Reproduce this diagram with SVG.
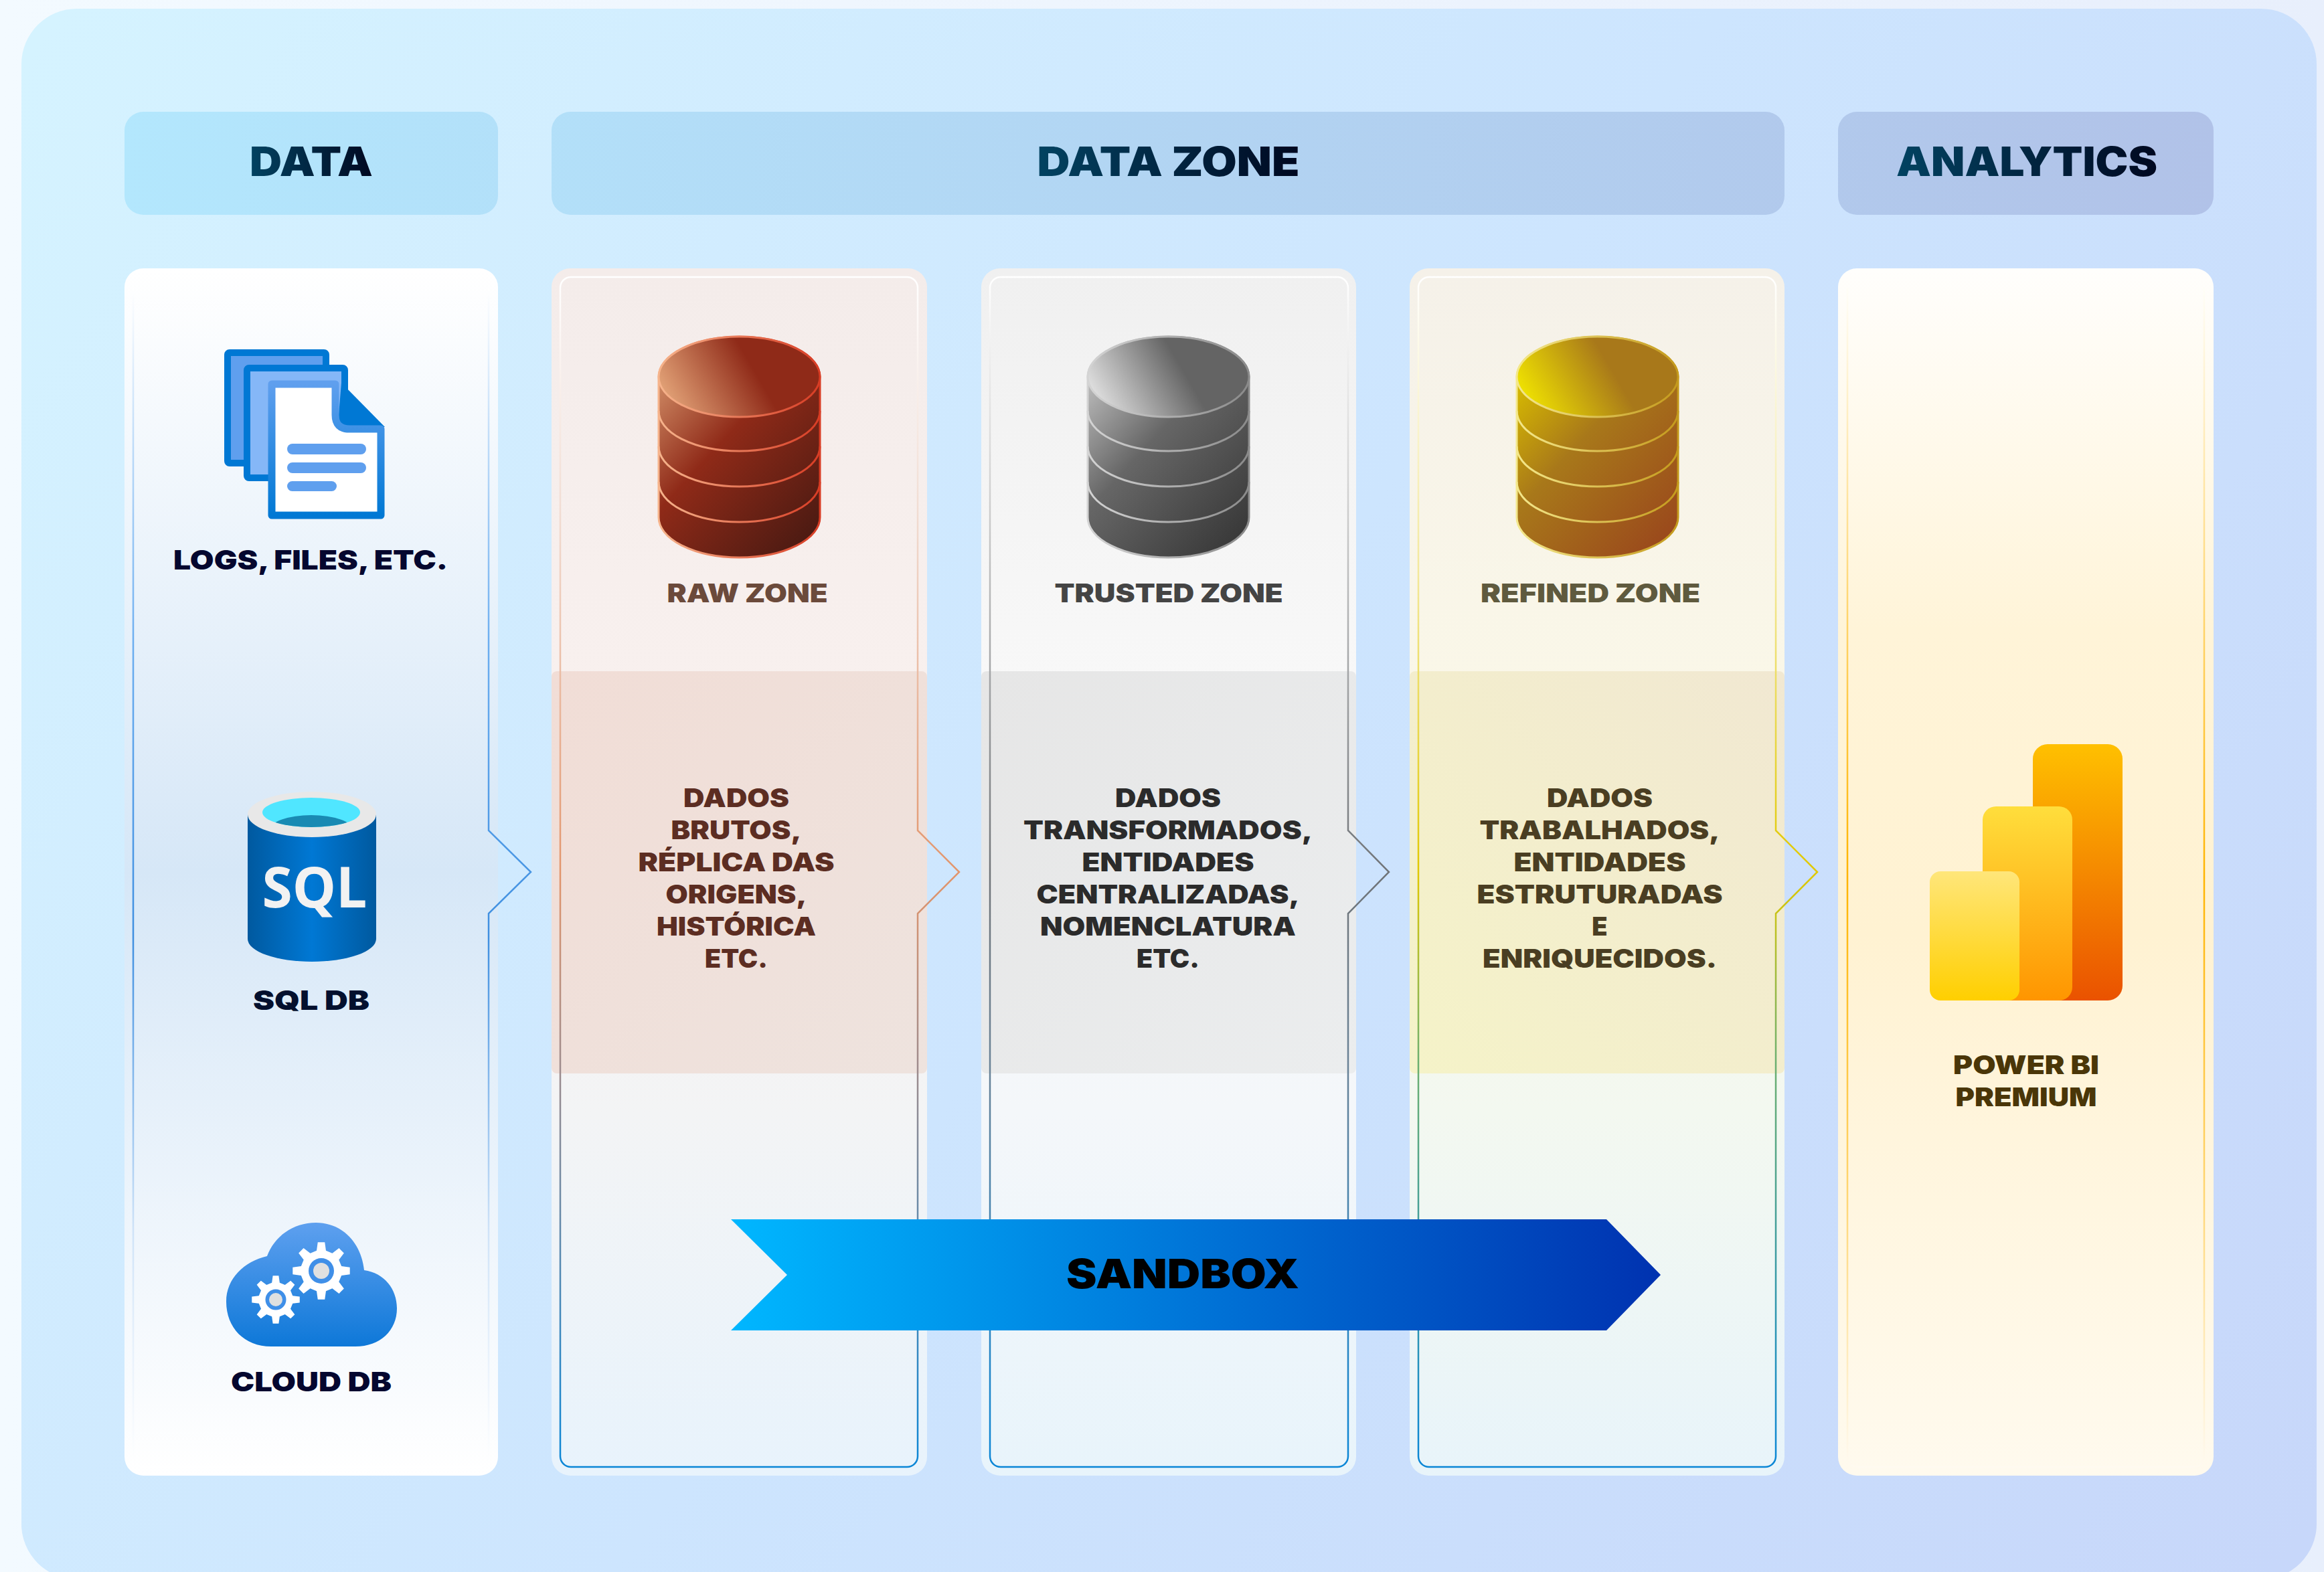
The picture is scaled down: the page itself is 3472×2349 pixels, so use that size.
<svg xmlns="http://www.w3.org/2000/svg" width="3472" height="2349" viewBox="0 0 3472 2349">
<style>
text{font-family:"Inter","Liberation Sans",sans-serif;font-weight:900;text-anchor:middle}
.h{font-size:60px;fill:url(#hText)}
.l{font-size:40px;fill:#05072f}
.z{font-size:38px}
.b{font-size:38px}
.frame{fill:none;stroke-width:3}
.thin{stroke-width:2.5;stroke-linejoin:miter}
</style>
<defs>
<linearGradient id="page" x1="0" x2="1" y1="0" y2="0"><stop offset="0" stop-color="#f3faff"/><stop offset="1" stop-color="#e8effc"/></linearGradient>
<linearGradient id="bg" gradientUnits="userSpaceOnUse" x1="100" y1="0" x2="3400" y2="2349"><stop offset="0" stop-color="#d5f3ff"/><stop offset=".5" stop-color="#cde5fe"/><stop offset="1" stop-color="#c7d7fa"/></linearGradient>
<linearGradient id="head" gradientUnits="userSpaceOnUse" x1="186" y1="0" x2="3307" y2="0"><stop offset="0" stop-color="#b3e7fd"/><stop offset="1" stop-color="#b1c2e8"/></linearGradient>
<linearGradient id="hText" x1="0" x2="1" y1="0" y2="0"><stop offset="0" stop-color="#024362"/><stop offset="1" stop-color="#000820"/></linearGradient>
<linearGradient id="pData" x1="0" x2="0" y1="0" y2="1"><stop offset="0" stop-color="#fff"/><stop offset=".5" stop-color="#d6e7f7"/><stop offset="1" stop-color="#fff"/></linearGradient>
<linearGradient id="pAna" x1="0" x2="0" y1="0" y2="1"><stop offset="0" stop-color="#fffefc"/><stop offset=".3" stop-color="#fff4d8"/><stop offset=".55" stop-color="#fff2d2"/><stop offset="1" stop-color="#fffaee"/></linearGradient>
<linearGradient id="pRaw" x1="0" x2="0" y1="0" y2="1"><stop offset="0" stop-color="#f4ecea"/><stop offset=".34" stop-color="#f8f0ee"/><stop offset=".7" stop-color="#f3f4f5"/><stop offset="1" stop-color="#e8f3fc"/></linearGradient>
<linearGradient id="pTru" x1="0" x2="0" y1="0" y2="1"><stop offset="0" stop-color="#f0f0f0"/><stop offset=".34" stop-color="#f8f8f8"/><stop offset=".7" stop-color="#f4f7fa"/><stop offset="1" stop-color="#e8f4fb"/></linearGradient>
<linearGradient id="pRef" x1="0" x2="0" y1="0" y2="1"><stop offset="0" stop-color="#f5f1e9"/><stop offset=".34" stop-color="#faf7e8"/><stop offset=".7" stop-color="#f3f8f0"/><stop offset="1" stop-color="#e8f4fa"/></linearGradient>
<linearGradient id="bRaw" x1="0" x2="1" y1="0" y2="1"><stop offset="0" stop-color="#f1ddd6"/><stop offset="1" stop-color="#eee3de"/></linearGradient>
<linearGradient id="bTru" x1="0" x2="1" y1="0" y2="1"><stop offset="0" stop-color="#e6e6e6"/><stop offset="1" stop-color="#ebedee"/></linearGradient>
<linearGradient id="bRef" x1="0" x2="1" y1="1" y2="0"><stop offset="0" stop-color="#f5f3c8"/><stop offset="1" stop-color="#f1e8d2"/></linearGradient>
<linearGradient id="fData" gradientUnits="userSpaceOnUse" x1="0" x2="0" y1="430" y2="2192"><stop offset="0" stop-color="#fff"/><stop offset=".3" stop-color="#6caef0"/><stop offset=".55" stop-color="#3f8fe0"/><stop offset=".8" stop-color="#cfe3f8"/><stop offset="1" stop-color="#fff"/></linearGradient>
<linearGradient id="fAna" gradientUnits="userSpaceOnUse" x1="0" x2="0" y1="430" y2="2192"><stop offset="0" stop-color="#fffef8"/><stop offset=".5" stop-color="#ffb400"/><stop offset=".75" stop-color="#ffd36a"/><stop offset="1" stop-color="#fffaf0"/></linearGradient>
<linearGradient id="fRaw" gradientUnits="userSpaceOnUse" x1="0" x2="0" y1="414" y2="2192"><stop offset="0" stop-color="#fff"/><stop offset=".2" stop-color="#f1dcd2"/><stop offset=".5" stop-color="#e2956c"/><stop offset=".66" stop-color="#a08c8c"/><stop offset="1" stop-color="#0a86d6"/></linearGradient>
<linearGradient id="fTru" gradientUnits="userSpaceOnUse" x1="0" x2="0" y1="414" y2="2192"><stop offset="0" stop-color="#fff"/><stop offset=".2" stop-color="#ccc"/><stop offset=".5" stop-color="#707478"/><stop offset=".66" stop-color="#6a8296"/><stop offset="1" stop-color="#0a86d6"/></linearGradient>
<linearGradient id="fRef" gradientUnits="userSpaceOnUse" x1="0" x2="0" y1="414" y2="2192"><stop offset="0" stop-color="#fff"/><stop offset=".25" stop-color="#f3e89a"/><stop offset=".5" stop-color="#e0c800"/><stop offset=".66" stop-color="#6cb070"/><stop offset="1" stop-color="#0a86d6"/></linearGradient>
<linearGradient id="sand" gradientUnits="userSpaceOnUse" x1="1092" x2="2480" y1="0" y2="0"><stop offset="0" stop-color="#00b7ff"/><stop offset="1" stop-color="#0032b0"/></linearGradient>
<linearGradient id="sheet" x1="0" x2="0" y1="0" y2="1"><stop offset="0" stop-color="#5f9fee"/><stop offset="1" stop-color="#0078d4"/></linearGradient>
<linearGradient id="sql" x1="0" x2="1" y1="0" y2="0"><stop offset="0" stop-color="#00599f"/><stop offset=".5" stop-color="#0078d4"/><stop offset="1" stop-color="#00599f"/></linearGradient>
<linearGradient id="cloud" x1="0" x2="0" y1="0" y2="1"><stop offset="0" stop-color="#5ea0ef"/><stop offset="1" stop-color="#0e78d8"/></linearGradient>
<linearGradient id="pb1" x1="0" x2="0" y1="0" y2="1"><stop offset="0" stop-color="#ffc000"/><stop offset="1" stop-color="#ea5200"/></linearGradient>
<linearGradient id="pb2" x1="0" x2="0" y1="0" y2="1"><stop offset="0" stop-color="#ffde3c"/><stop offset="1" stop-color="#ff9500"/></linearGradient>
<linearGradient id="pb3" x1="0" x2="0" y1="0" y2="1"><stop offset="0" stop-color="#ffe67a"/><stop offset="1" stop-color="#ffcf00"/></linearGradient>
<linearGradient id="rawBody" gradientUnits="userSpaceOnUse" x1="0" y1="5" x2="243" y2="228"><stop offset="0" stop-color="#cf8a64"/><stop offset=".4" stop-color="#8f2a18"/><stop offset="1" stop-color="#4b1a12"/></linearGradient>
<linearGradient id="rawTop" gradientUnits="userSpaceOnUse" x1="5" y1="30" x2="125" y2="-40"><stop offset="0" stop-color="#e5a67a"/><stop offset="1" stop-color="#8f2a18"/></linearGradient>
<linearGradient id="rawLine" x1="0" x2="1" y1="0" y2="0"><stop offset="0" stop-color="#f6b48c"/><stop offset="1" stop-color="#d83c24"/></linearGradient>
<linearGradient id="truBody" gradientUnits="userSpaceOnUse" x1="0" y1="5" x2="243" y2="228"><stop offset="0" stop-color="#bcbcbc"/><stop offset=".4" stop-color="#666"/><stop offset="1" stop-color="#383838"/></linearGradient>
<linearGradient id="truTop" gradientUnits="userSpaceOnUse" x1="5" y1="30" x2="125" y2="-40"><stop offset="0" stop-color="#e4e4e4"/><stop offset="1" stop-color="#646464"/></linearGradient>
<linearGradient id="truLine" x1="0" x2="1" y1="0" y2="0"><stop offset="0" stop-color="#d4d4d4"/><stop offset="1" stop-color="#8a8a8a"/></linearGradient>
<linearGradient id="refBody" gradientUnits="userSpaceOnUse" x1="0" y1="5" x2="243" y2="228"><stop offset="0" stop-color="#d8bc00"/><stop offset=".4" stop-color="#a8781a"/><stop offset="1" stop-color="#9a481c"/></linearGradient>
<linearGradient id="refTop" gradientUnits="userSpaceOnUse" x1="5" y1="30" x2="125" y2="-40"><stop offset="0" stop-color="#f2e600"/><stop offset="1" stop-color="#a8781a"/></linearGradient>
<linearGradient id="refLine" x1="0" x2="1" y1="0" y2="0"><stop offset="0" stop-color="#f4e88c"/><stop offset="1" stop-color="#c49a1c"/></linearGradient>
<clipPath id="sqlIn"><ellipse cx="465" cy="1214" rx="73" ry="22"/></clipPath>
<path id="cyBody" d="M0 0 V210 A120.5 60 0 0 0 241 210 V0 A120.5 60 0 0 0 0 0Z"/>
<ellipse id="cyTop" cx="120.5" cy="0" rx="120.5" ry="60"/>
<path id="cyBands" d="M0 51 A120.5 60 0 0 0 241 51 M0 104 A120.5 60 0 0 0 241 104 M0 157 A120.5 60 0 0 0 241 157"/>
<polygon id="gear" fill="#fff" points="-16.2,-70.1 -12.2,-99.3 12.2,-99.3 16.2,-70.1 38.2,-61.1 61.6,-78.8 78.8,-61.6 61.1,-38.2 70.1,-16.2 99.3,-12.2 99.3,12.2 70.1,16.2 61.1,38.2 78.8,61.6 61.6,78.8 38.2,61.1 16.2,70.1 12.2,99.3 -12.2,99.3 -16.2,70.1 -38.2,61.1 -61.6,78.8 -78.8,61.6 -61.1,38.2 -70.1,16.2 -99.3,12.2 -99.3,-12.2 -70.1,-16.2 -61.1,-38.2 -78.8,-61.6 -61.6,-78.8 -38.2,-61.1"/>
</defs>

<rect id="page-bg" width="3472" height="2349" fill="url(#page)"/>
<rect id="stage" x="32" y="13" width="3429" height="2347" rx="83" fill="url(#bg)"/>

<g id="header-data"><rect x="186" y="167" width="558" height="154" rx="28" fill="url(#head)"/><text class="h" x="465" y="263" textLength="184" lengthAdjust="spacingAndGlyphs">DATA</text></g>
<g id="header-data-zone"><rect x="824" y="167" width="1842" height="154" rx="28" fill="url(#head)"/><text class="h" x="1745.5" y="263" textLength="392" lengthAdjust="spacingAndGlyphs">DATA ZONE</text></g>
<g id="header-analytics"><rect x="2746" y="167" width="561" height="154" rx="28" fill="url(#head)"/><text class="h" x="3028" y="263" textLength="390" lengthAdjust="spacingAndGlyphs">ANALYTICS</text></g>

<g id="panel-data"><rect x="186" y="401" width="558" height="1804" rx="28" fill="url(#pData)"/></g>
<g id="panel-raw"><rect x="824" y="401" width="561" height="1804" rx="28" fill="url(#pRaw)"/><rect x="824" y="1003" width="561" height="601" rx="8" fill="url(#bRaw)"/></g>
<g id="panel-trusted"><rect x="1466" y="401" width="560" height="1804" rx="28" fill="url(#pTru)"/><rect x="1466" y="1003" width="560" height="601" rx="8" fill="url(#bTru)"/></g>
<g id="panel-refined"><rect x="2106" y="401" width="560" height="1804" rx="28" fill="url(#pRef)"/><rect x="2106" y="1003" width="560" height="601" rx="8" fill="url(#bRef)"/></g>
<g id="panel-analytics"><rect x="2746" y="401" width="561" height="1804" rx="28" fill="url(#pAna)"/></g>

<g id="connectors">
<path class="frame thin" stroke="url(#fData)" d="M199 430 V2176 a16 16 0 0 0 16 16 H714 a16 16 0 0 0 16 -16 V1365 L793 1303 L730 1241 V430"/>
<path class="frame thin" stroke="url(#fRaw)" d="M853 414 H1355 a16 16 0 0 1 16 16 V1241 L1433 1303 L1371 1365 V2176 a16 16 0 0 1 -16 16 H853 a16 16 0 0 1 -16 -16 V430 a16 16 0 0 1 16 -16Z"/>
<path class="frame thin" stroke="url(#fTru)" d="M1495 414 H1998 a16 16 0 0 1 16 16 V1241 L2075 1303 L2014 1365 V2176 a16 16 0 0 1 -16 16 H1495 a16 16 0 0 1 -16 -16 V430 a16 16 0 0 1 16 -16Z"/>
<path class="frame thin" stroke="url(#fRef)" d="M2135 414 H2637 a16 16 0 0 1 16 16 V1241 L2715 1303 L2653 1365 V2176 a16 16 0 0 1 -16 16 H2135 a16 16 0 0 1 -16 -16 V430 a16 16 0 0 1 16 -16Z"/>
<path class="frame thin" stroke="url(#fAna)" d="M2760 430 V2176 a16 16 0 0 0 16 16 H3277 a16 16 0 0 0 16 -16 V430"/>
</g>

<g id="node-logs">
<rect x="340" y="527" width="147" height="165" rx="3" fill="#5f9fee" stroke="#0078d4" stroke-width="10"/>
<rect x="369" y="550" width="146" height="164" rx="3" fill="#85b7f7" stroke="#0078d4" stroke-width="10"/>
<path d="M510 572 L575 638 H518 Q506 636 506 620Z" fill="#0078d4"/>
<path d="M406 574 H501 V620 Q501 641 522 641 H569 V770 H406Z" fill="#fff" stroke="url(#sheet)" stroke-width="11" stroke-linejoin="round"/>
<rect x="429" y="663" width="118" height="16" rx="8" fill="#5f9fee"/>
<rect x="429" y="691" width="118" height="16" rx="8" fill="#5f9fee"/>
<rect x="429" y="719" width="74" height="15" rx="7.5" fill="#5f9fee"/>
<text class="l" x="464" y="851" textLength="410" lengthAdjust="spacingAndGlyphs">LOGS, FILES, ETC.</text>
</g>

<g id="node-sql">
<path d="M370 1217 V1403 A96 34 0 0 0 562 1403 V1217Z" fill="url(#sql)"/>
<ellipse cx="466" cy="1217" rx="96" ry="34" fill="#e8e8e8"/>
<ellipse cx="465" cy="1214" rx="73" ry="22" fill="#50e6ff"/>
<ellipse cx="465" cy="1240" rx="62" ry="22" fill="#198ab3" clip-path="url(#sqlIn)"/>
<text x="470" y="1356" style="font-family:'Open Sans','Liberation Sans',sans-serif;font-weight:700;font-size:84px;fill:#f2f2f2" textLength="157" lengthAdjust="spacingAndGlyphs">SQL</text>
<text class="l" x="465" y="1509" textLength="174" lengthAdjust="spacingAndGlyphs" style="fill:#04102e">SQL DB</text>
</g>

<g id="node-cloud">
<path d="M405 2012 C365 2012 338 1984 338 1945 C338 1910 365 1885 399 1877 C410 1848 437 1827 472 1827 C512 1827 540 1858 544 1898 C574 1902 593 1926 593 1955 C593 1988 568 2012 531 2012Z" fill="url(#cloud)"/>
<use href="#gear" transform="translate(480 1899) scale(.43)"/>
<circle cx="480" cy="1899" r="19" fill="#3f8fe8"/><circle cx="480" cy="1899" r="12" fill="#e0e0e0"/>
<use href="#gear" transform="translate(412 1942) scale(.36)"/>
<circle cx="412" cy="1942" r="15.5" fill="#3f8fe8"/><circle cx="412" cy="1942" r="10" fill="#e0e0e0"/>
<text class="l" x="465" y="2079" textLength="240" lengthAdjust="spacingAndGlyphs">CLOUD DB</text>
</g>

<g id="node-raw">
<g transform="translate(984 563)">
<use href="#cyBody" fill="url(#rawBody)" stroke="url(#rawLine)" stroke-width="3"/>
<use href="#cyTop" fill="url(#rawTop)" stroke="url(#rawLine)" stroke-width="3"/>
<use href="#cyBands" fill="none" stroke="url(#rawLine)" stroke-width="3"/>
</g>
<text class="z" x="1116.5" y="900" textLength="240" lengthAdjust="spacingAndGlyphs" style="fill:#6b4a3b">RAW ZONE</text>
<g fill="#5c2d22">
<text class="b" x="1100" y="1206" textLength="158" lengthAdjust="spacingAndGlyphs">DADOS</text>
<text class="b" x="1100" y="1254" textLength="195" lengthAdjust="spacingAndGlyphs">BRUTOS,</text>
<text class="b" x="1100" y="1302" textLength="293" lengthAdjust="spacingAndGlyphs">RÉPLICA DAS</text>
<text class="b" x="1100" y="1350" textLength="211" lengthAdjust="spacingAndGlyphs">ORIGENS,</text>
<text class="b" x="1100" y="1398" textLength="238" lengthAdjust="spacingAndGlyphs">HISTÓRICA</text>
<text class="b" x="1100" y="1446" textLength="94" lengthAdjust="spacingAndGlyphs">ETC.</text>
</g>
</g>

<g id="node-trusted">
<g transform="translate(1625 563)">
<use href="#cyBody" fill="url(#truBody)" stroke="url(#truLine)" stroke-width="3"/>
<use href="#cyTop" fill="url(#truTop)" stroke="url(#truLine)" stroke-width="3"/>
<use href="#cyBands" fill="none" stroke="url(#truLine)" stroke-width="3"/>
</g>
<text class="z" x="1746" y="900" textLength="341" lengthAdjust="spacingAndGlyphs" style="fill:#444">TRUSTED ZONE</text>
<g fill="#2b2b2b">
<text class="b" x="1745" y="1206" textLength="158" lengthAdjust="spacingAndGlyphs">DADOS</text>
<text class="b" x="1745" y="1254" textLength="432" lengthAdjust="spacingAndGlyphs">TRANSFORMADOS,</text>
<text class="b" x="1745" y="1302" textLength="257" lengthAdjust="spacingAndGlyphs">ENTIDADES</text>
<text class="b" x="1745" y="1350" textLength="393" lengthAdjust="spacingAndGlyphs">CENTRALIZADAS,</text>
<text class="b" x="1745" y="1398" textLength="382" lengthAdjust="spacingAndGlyphs">NOMENCLATURA</text>
<text class="b" x="1745" y="1446" textLength="94" lengthAdjust="spacingAndGlyphs">ETC.</text>
</g>
</g>

<g id="node-refined">
<g transform="translate(2266 563)">
<use href="#cyBody" fill="url(#refBody)" stroke="url(#refLine)" stroke-width="3"/>
<use href="#cyTop" fill="url(#refTop)" stroke="url(#refLine)" stroke-width="3"/>
<use href="#cyBands" fill="none" stroke="url(#refLine)" stroke-width="3"/>
</g>
<text class="z" x="2376" y="900" textLength="328" lengthAdjust="spacingAndGlyphs" style="fill:#5f5a3e">REFINED ZONE</text>
<g fill="#4a3e22">
<text class="b" x="2390" y="1206" textLength="158" lengthAdjust="spacingAndGlyphs">DADOS</text>
<text class="b" x="2390" y="1254" textLength="359" lengthAdjust="spacingAndGlyphs">TRABALHADOS,</text>
<text class="b" x="2390" y="1302" textLength="257" lengthAdjust="spacingAndGlyphs">ENTIDADES</text>
<text class="b" x="2390" y="1350" textLength="367" lengthAdjust="spacingAndGlyphs">ESTRUTURADAS</text>
<text class="b" x="2390" y="1398">E</text>
<text class="b" x="2390" y="1446" textLength="350" lengthAdjust="spacingAndGlyphs">ENRIQUECIDOS.</text>
</g>
</g>

<g id="node-powerbi">
<rect x="3037" y="1112" width="134" height="383" rx="22" fill="url(#pb1)"/>
<rect x="2962" y="1205" width="134" height="290" rx="20" fill="url(#pb2)"/>
<rect x="2883" y="1302" width="134" height="193" rx="16" fill="url(#pb3)"/>
<text class="b" x="3027" y="1605" textLength="218" lengthAdjust="spacingAndGlyphs" fill="#4a3608">POWER BI</text>
<text class="b" x="3027" y="1653" textLength="211" lengthAdjust="spacingAndGlyphs" fill="#4a3608">PREMIUM</text>
</g>

<g id="node-sandbox">
<path d="M1092 1822 H2400 L2481 1905 L2400 1988 H1092 L1176 1905Z" fill="url(#sand)"/>
<text x="1767" y="1925" textLength="348" lengthAdjust="spacingAndGlyphs" style="font-size:60px;fill:#000">SANDBOX</text>
</g>
</svg>
